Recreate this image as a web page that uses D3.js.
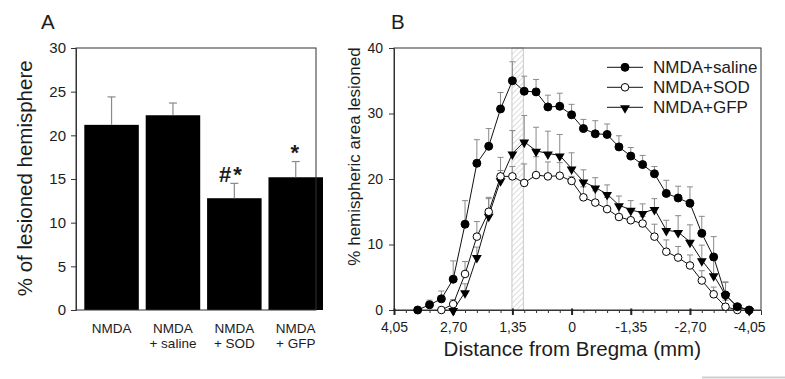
<!DOCTYPE html>
<html>
<head>
<meta charset="utf-8">
<script src="https://cdn.jsdelivr.net/npm/d3@7/dist/d3.min.js"></script>
<style>
  html, body { margin: 0; padding: 0; background: #fff; }
  svg { display: block; font-family: "Liberation Sans", Arial, sans-serif; }
</style>
</head>
<body>
<svg id="chart" width="785" height="379"></svg>
<script>
// ---------- Panel A data ----------
const groupsA = ["NMDA", "NMDA + saline", "NMDA + SOD", "NMDA + GFP"];
const labelLinesA = [["NMDA"], ["NMDA", "+ saline"], ["NMDA", "+ SOD"], ["NMDA", "+ GFP"]];
const valuesA = [21.2, 22.3, 12.8, 15.2];
const errorsA = [3.2, 1.4, 1.7, 1.8];
const marksA = ["", "", "#*", "*"];
const yTicksA = [0, 5, 10, 15, 20, 25, 30];

// ---------- Panel B data ----------
const distances = [3.51, 3.24, 2.97, 2.70, 2.43, 2.16, 1.89, 1.62, 1.35, 1.08, 0.81, 0.54, 0.27, 0,
  -0.27, -0.54, -0.81, -1.08, -1.35, -1.62, -1.89, -2.16, -2.43, -2.70, -2.97, -3.24, -3.51, -3.78, -4.05];
const salineMean = [0, 0.8, 1.7, 4.7, 13.1, 22.4, 25.0, 30.7, 35.0, 33.4, 33.3, 31.0, 31.1, 29.8,
  27.7, 26.9, 26.8, 24.9, 23.5, 22.2, 20.8, 17.8, 17.1, 16.3, 11.7, 8.1, 2.3, 0.5, 0];
const salineErr = [0, 0.7, 1.2, 2.8, 3.6, 3.6, 2.7, 2.5, 2.9, 2.3, 1.9, 1.8, 2.0, 1.6,
  1.4, 2.0, 1.6, 1.7, 1.3, 1.4, 1.1, 2.0, 1.8, 2.5, 2.6, 3.1, 2.0, 0, 0];
const sodMean = [null, null, 0, 0.9, 5.5, 11.2, 15.0, 20.4, 20.4, 19.4, 20.6, 20.4, 20.5, 19.7,
  17.2, 16.4, 15.4, 14.2, 13.7, 13.2, 11.2, 8.9, 8.0, 6.8, 4.5, 2.4, 0.5, 0, null];
const sodErr = [0, 0, 0, 0.7, 1.9, 2.3, 2.2, 2.9, 1.5, 2.9, 2.8, 2.2, 2.0, 0.7,
  1.6, 1.8, 1.8, 1.7, 1.3, 1.1, 1.9, 1.8, 1.7, 1.6, 1.5, 1.1, 1.0, 0, null];
const gfpMean = [null, null, null, 0, 2.7, 8.1, 14.4, 19.8, 23.9, 25.7, 24.3, 23.9, 23.6, 21.6,
  19.6, 18.7, 17.7, 16.0, 15.3, 14.8, 15.4, 12.2, 11.9, 10.4, 7.6, 5.3, 2.3, 0.5, 0];
const gfpErr = [0, 0, 0, 0, 1.3, 1.5, 2.6, 1.5, 3.5, 4.0, 3.6, 3.4, 3.2, 2.4,
  1.8, 1.5, 1.4, 1.4, 1.4, 1.4, 1.6, 1.5, 2.5, 2.6, 2.3, 2.3, 1.9, 0, 0];
const seriesNames = ["NMDA+saline", "NMDA+SOD", "NMDA+GFP"];
const xMajorTicksB = [4.05, 2.70, 1.35, 0, -1.35, -2.70, -4.05];
const yTicksB = [0, 10, 20, 30, 40];
const bandRange = [1.36, 1.10];

const svg = d3.select("#chart");
const ink = "#1c1c1c";
const errColor = "#8a8a8a";

// ================= Panel A =================
const A = { left: 76, right: 316, top: 48, bottom: 310 };
const yA = d3.scaleLinear().domain([0, 30]).range([A.bottom, A.top]);
const xA = d3.scaleBand().domain(groupsA).range([84.3, 323]).paddingInner(0.112).paddingOuter(0);

svg.append("text").attr("x", 41).attr("y", 29.3).attr("font-size", 20.5).attr("fill", ink).text("A");

// bars
svg.append("g").selectAll("rect").data(groupsA).join("rect")
  .attr("x", d => xA(d)).attr("width", xA.bandwidth())
  .attr("y", (d, i) => yA(valuesA[i]))
  .attr("height", (d, i) => yA(0) - yA(valuesA[i]))
  .attr("fill", "#000");

// error bars
const gErrA = svg.append("g").attr("stroke", errColor).attr("stroke-width", 1.2);
groupsA.forEach((g, i) => {
  const cx = xA(g) + xA.bandwidth() / 2;
  gErrA.append("line").attr("x1", cx).attr("x2", cx).attr("y1", yA(valuesA[i])).attr("y2", yA(valuesA[i] + errorsA[i]));
  gErrA.append("line").attr("x1", cx - 4).attr("x2", cx + 4).attr("y1", yA(valuesA[i] + errorsA[i])).attr("y2", yA(valuesA[i] + errorsA[i]));
});

// significance marks
groupsA.forEach((g, i) => {
  if (!marksA[i]) return;
  const cx = xA(g) + xA.bandwidth() / 2 - (marksA[i].length > 1 ? 3 : 0);
  svg.append("text").attr("x", cx).attr("y", yA(valuesA[i] + errorsA[i]) - 1.5)
    .attr("text-anchor", "middle").attr("font-size", 22).attr("font-weight", "bold")
    .attr("letter-spacing", 2).attr("fill", ink).text(marksA[i]);
});

// frame
svg.append("rect").attr("x", A.left).attr("y", A.top).attr("width", A.right - A.left).attr("height", A.bottom - A.top)
  .attr("fill", "none").attr("stroke", "#333").attr("stroke-width", 1);

// y axis
const axA = svg.append("g").attr("transform", `translate(${A.left},0)`)
  .call(d3.axisLeft(yA).tickValues(yTicksA).tickSize(5).tickPadding(5));
axA.select(".domain").attr("stroke", "#333");
axA.selectAll(".tick line").attr("stroke", "#333");
axA.selectAll("text").attr("font-size", 15).attr("font-family", "Liberation Sans, Arial, sans-serif").attr("fill", ink);

// x labels (two lines, slightly wider spacing to avoid overlap)
groupsA.forEach((g, i) => {
  const cx = xA(g) + xA.bandwidth() / 2;
  labelLinesA[i].forEach((line, j) => {
    svg.append("text").attr("x", cx).attr("y", 332.6 + j * 15.6).attr("text-anchor", "middle")
      .attr("font-size", 13.5).attr("fill", ink).text(line);
  });
});

svg.append("text").attr("transform", "translate(32.4,178.3) rotate(-90)").attr("text-anchor", "middle")
  .attr("font-size", 20.5).attr("fill", ink).text("% of lesioned hemisphere");

// ================= Panel B =================
const B = { left: 394, right: 761, top: 48, bottom: 310 };
const xB = d3.scaleLinear().domain([4.05, -4.32]).range([B.left, B.right]);
const yB = d3.scaleLinear().domain([0, 40]).range([B.bottom, B.top]);

svg.append("text").attr("x", 391).attr("y", 29.3).attr("font-size", 20.5).attr("fill", ink).text("B");

// hatched band
const defs = svg.append("defs");
const pat = defs.append("pattern").attr("id", "hatch").attr("patternUnits", "userSpaceOnUse")
  .attr("width", 4).attr("height", 4).attr("patternTransform", "rotate(45)");
pat.append("line").attr("x1", 0).attr("y1", 0).attr("x2", 0).attr("y2", 4).attr("stroke", "#c4c4c4").attr("stroke-width", 1.2);
svg.append("rect").attr("x", xB(bandRange[0])).attr("y", B.top)
  .attr("width", xB(bandRange[1]) - xB(bandRange[0])).attr("height", B.bottom - B.top)
  .attr("fill", "url(#hatch)").attr("stroke", "#c8c8c8").attr("stroke-width", 1);

// frame
svg.append("rect").attr("x", B.left).attr("y", B.top).attr("width", B.right - B.left).attr("height", B.bottom - B.top)
  .attr("fill", "none").attr("stroke", "#333").attr("stroke-width", 1);

// axes
const axBy = svg.append("g").attr("transform", `translate(${B.left},0)`)
  .call(d3.axisLeft(yB).tickValues(yTicksB).tickSize(5).tickPadding(6));
axBy.select(".domain").attr("stroke", "#333");
axBy.selectAll(".tick line").attr("stroke", "#333");
axBy.selectAll("text").attr("font-size", 14).attr("font-family", "Liberation Sans, Arial, sans-serif").attr("fill", ink);

const minorTicks = d3.range(0, 31).map(i => +(4.05 - i * 0.27).toFixed(2));
const axBxMinor = svg.append("g").attr("transform", `translate(0,${B.bottom})`)
  .call(d3.axisBottom(xB).tickValues(minorTicks).tickSize(3).tickFormat(""));
axBxMinor.select(".domain").remove();
axBxMinor.selectAll(".tick line").attr("stroke", "#333");

const fmt = v => v === 0 ? "0" : v.toFixed(2).replace(".", ",");
const axBx = svg.append("g").attr("transform", `translate(0,${B.bottom})`)
  .call(d3.axisBottom(xB).tickValues(xMajorTicksB).tickSize(5).tickPadding(7).tickFormat(fmt));
axBx.select(".domain").attr("stroke", "#333");
axBx.selectAll(".tick line").attr("stroke", "#222").attr("stroke-width", 2).attr("y1", -1.5);
axBx.selectAll("text").attr("font-size", 14).attr("font-family", "Liberation Sans, Arial, sans-serif").attr("fill", ink);

// series
const series = [
  { name: seriesNames[0], mean: salineMean, err: salineErr, type: "filledCircle" },
  { name: seriesNames[1], mean: sodMean, err: sodErr, type: "openCircle" },
  { name: seriesNames[2], mean: gfpMean, err: gfpErr, type: "triangle" }
];

function drawMarker(g, type, x, y) {
  if (type === "filledCircle") {
    g.append("circle").attr("cx", x).attr("cy", y).attr("r", 4).attr("fill", "#000").attr("stroke", "#000");
  } else if (type === "openCircle") {
    g.append("circle").attr("cx", x).attr("cy", y).attr("r", 3.8).attr("fill", "#fff").attr("stroke", "#000").attr("stroke-width", 1);
  } else {
    g.append("path").attr("d", d3.symbol().type(d3.symbolTriangle).size(42)())
      .attr("transform", `translate(${x},${y + 0.8}) rotate(180)`).attr("fill", "#000");
  }
}

// error bars (behind)
const gErrB = svg.append("g").attr("stroke", errColor).attr("stroke-width", 1);
series.forEach(s => {
  distances.forEach((d, i) => {
    const m = s.mean[i], e = s.err[i];
    if (m == null || !e) return;
    const cx = xB(d);
    gErrB.append("line").attr("x1", cx).attr("x2", cx).attr("y1", yB(m)).attr("y2", yB(m + e));
    gErrB.append("line").attr("x1", cx - 3).attr("x2", cx + 3).attr("y1", yB(m + e)).attr("y2", yB(m + e));
  });
});

// lines and markers
const lineGen = d3.line().defined(d => d[1] != null).x(d => xB(d[0])).y(d => yB(d[1]));
series.slice().reverse().forEach(s => {
  const pts = distances.map((d, i) => [d, s.mean[i]]);
  svg.append("path").datum(pts).attr("d", lineGen).attr("fill", "none").attr("stroke", "#111").attr("stroke-width", 1);
});
series.slice().reverse().forEach(s => {
  const g = svg.append("g");
  distances.forEach((d, i) => {
    if (s.mean[i] == null) return;
    drawMarker(g, s.type, xB(d), yB(s.mean[i]));
  });
});

// legend
const legY = [67.3, 87.3, 107.3];
series.forEach((s, i) => {
  const g = svg.append("g");
  g.append("line").attr("x1", 607).attr("x2", 643).attr("y1", legY[i]).attr("y2", legY[i]).attr("stroke", "#111");
  drawMarker(g, s.type, 625, legY[i]);
  g.append("text").attr("x", 653).attr("y", legY[i] + 6).attr("font-size", 17).attr("fill", ink).text(s.name);
});

// axis titles
svg.append("text").attr("transform", "translate(359.5,156.5) rotate(-90)").attr("text-anchor", "middle")
  .attr("font-size", 17).attr("fill", ink).text("% hemispheric area lesioned");
svg.append("text").attr("x", 572.3).attr("y", 356).attr("text-anchor", "middle")
  .attr("font-size", 20.5).attr("fill", ink).text("Distance from Bregma (mm)");

// faint scale line at bottom right
svg.append("line").attr("x1", 702).attr("x2", 785).attr("y1", 377.5).attr("y2", 377.5)
  .attr("stroke", "#cfcfcf").attr("stroke-width", 2);
</script>
</body>
</html>
